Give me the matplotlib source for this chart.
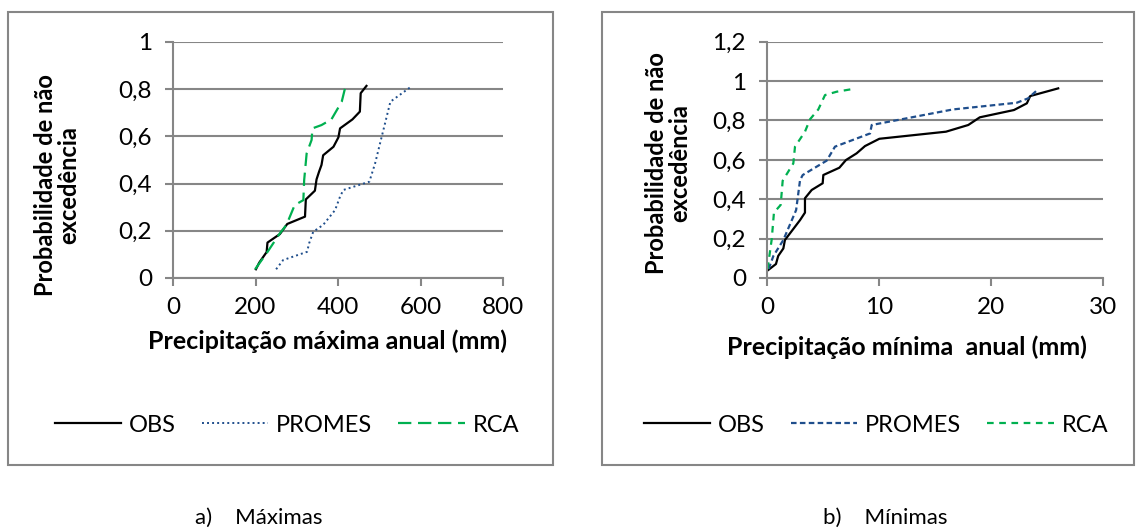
import numpy as np
import matplotlib
matplotlib.use("Agg")
import matplotlib.pyplot as plt
from matplotlib.patches import Rectangle
from matplotlib.ticker import FuncFormatter

plt.rcParams['font.family'] = ['Lato', 'DejaVu Sans']

# a) Maximas - precipitacao maxima anual (mm) vs probabilidade
max_obs_x = [201, 209, 219, 227, 229, 259, 277, 320, 322, 344, 348, 354, 360, 364,
             389, 401, 405, 435, 453, 455, 469]
max_obs_p = [0.037, 0.065, 0.09, 0.11, 0.15, 0.186, 0.229, 0.26, 0.333, 0.37, 0.418,
             0.45, 0.479, 0.52, 0.556, 0.596, 0.634, 0.672, 0.705, 0.783, 0.814]
max_promes_x = [250, 267, 325, 330, 340, 364, 393, 405, 413, 476, 490, 502, 510, 527, 575]
max_promes_p = [0.037, 0.076, 0.111, 0.147, 0.196, 0.225, 0.288, 0.345, 0.373, 0.408,
                0.486, 0.571, 0.627, 0.747, 0.808]
max_rca_x = [199, 227, 259, 275, 295, 316, 318, 324, 336, 338, 360, 384, 409, 419]
max_rca_p = [0.037, 0.105, 0.189, 0.225, 0.309, 0.33, 0.415, 0.528, 0.585, 0.634,
             0.648, 0.672, 0.747, 0.818]

# b) Minimas - precipitacao minima anual (mm) vs probabilidade
min_obs_x = [0.12, 0.8, 1.0, 1.46, 1.6, 2.95, 3.39, 3.39, 3.99, 4.97, 5.03, 6.46, 7.05,
             8.0, 8.75, 10.03, 15.98, 17.97, 19.0, 22.05, 23.2, 23.5, 26.0]
min_obs_p = [0.041, 0.071, 0.112, 0.15, 0.193, 0.294, 0.332, 0.405, 0.447, 0.481, 0.523,
             0.56, 0.599, 0.633, 0.67, 0.707, 0.743, 0.777, 0.816, 0.853, 0.887, 0.924, 0.963]
min_promes_x = [0.15, 0.57, 1.46, 2.6, 2.95, 3.19, 5.33, 6.07, 9.2, 9.35, 16.6, 22.3, 23.3, 24.2]
min_promes_p = [0.046, 0.112, 0.193, 0.345, 0.497, 0.523, 0.596, 0.667, 0.734, 0.777,
                0.856, 0.89, 0.912, 0.958]
min_rca_x = [0.05, 0.42, 0.62, 1.22, 1.4, 2.35, 2.5, 3.39, 3.84, 4.58, 5.18, 6.22, 7.47]
min_rca_p = [0.046, 0.196, 0.332, 0.371, 0.494, 0.582, 0.667, 0.743, 0.806, 0.856,
             0.929, 0.946, 0.958]

W, H = 1136, 532
fig = plt.figure(figsize=(W / 100, H / 100), dpi=100)

def fx(px):
    return px / W

def fy(py):
    return 1 - py / H

grey = '#868686'
green = '#00B050'
blue = '#1F4E8C'
fs_tick = 17.5
fs_leg = 17
fs_xl = 18
fs_yl = 17

def comma(v, pos):
    s = ('%.1f' % v).rstrip('0').rstrip('.')
    return s.replace('.', ',')

# outer frames
for x0, x1 in [(8, 553), (602, 1134)]:
    fig.patches.append(Rectangle((fx(x0), fy(465)), fx(x1) - fx(x0), fy(12) - fy(465),
                                 transform=fig.transFigure, fill=False,
                                 edgecolor=grey, linewidth=1.5))

def style(ax, ymax, ystep):
    ax.set_ylim(0, ymax)
    ax.set_yticks(np.arange(0, ymax + 0.001, ystep))
    ax.yaxis.set_major_formatter(FuncFormatter(comma))
    ax.grid(axis='y', color=grey, linewidth=1.5)
    ax.set_axisbelow(True)
    for s in ['top', 'right']:
        ax.spines[s].set_visible(False)
    for s in ['left', 'bottom']:
        ax.spines[s].set_color(grey)
        ax.spines[s].set_linewidth(1.5)
    ax.tick_params(axis='both', colors=grey, labelcolor='black', labelsize=fs_tick,
                   length=6, width=1.5)
    ax.tick_params(axis='y', pad=9)
    ax.tick_params(axis='x', pad=8)

# left panel
ax1 = fig.add_axes([fx(173), fy(278), fx(503) - fx(173), fy(42) - fy(278)])
ax1.plot(max_obs_x, max_obs_p, color='black', lw=1.6, label='OBS')
ax1.plot(max_promes_x, max_promes_p, color=blue, lw=1.4, ls=(0, (1, 1.6)), label='PROMES')
ax1.plot(max_rca_x, max_rca_p, color=green, lw=1.6, ls=(0, (6, 3)), label='RCA')
ax1.set_xlim(0, 800)
ax1.set_xticks([0, 200, 400, 600, 800])
style(ax1, 1.0, 0.2)
ax1.legend(loc='center', bbox_to_anchor=(fx(287), fy(425)), bbox_transform=fig.transFigure,
           ncol=3, frameon=False, fontsize=fs_leg, handlelength=2.8, columnspacing=1.1,
           handletextpad=0.35)

# right panel
ax2 = fig.add_axes([fx(767), fy(278), fx(1103) - fx(767), fy(41.7) - fy(278)])
ax2.plot(min_obs_x, min_obs_p, color='black', lw=1.6, label='OBS')
ax2.plot(min_promes_x, min_promes_p, color=blue, lw=1.6, ls=(0, (2.5, 1.5)), label='PROMES')
ax2.plot(min_rca_x, min_rca_p, color=green, lw=1.6, ls=(0, (3, 2.5)), label='RCA')
ax2.set_xlim(0, 30)
ax2.set_xticks([0, 10, 20, 30])
style(ax2, 1.2, 0.2)
ax2.legend(loc='center', bbox_to_anchor=(fx(876), fy(425)), bbox_transform=fig.transFigure,
           ncol=3, frameon=False, fontsize=fs_leg, handlelength=2.8, columnspacing=1.1,
           handletextpad=0.35)

# axis titles
fig.text(fx(57), fy(185), 'Probabilidade de não\nexcedência', rotation=90, ha='center',
         va='center', fontsize=fs_yl, fontweight='bold', linespacing=1.05)
fig.text(fx(668), fy(163), 'Probabilidade de não\nexcedência', rotation=90, ha='center',
         va='center', fontsize=fs_yl, fontweight='bold', linespacing=1.05)
fig.text(fx(327), fy(341), 'Precipitação máxima anual (mm)', ha='center', va='center',
         fontsize=fs_xl, fontweight='bold')
fig.text(fx(907), fy(347), 'Precipitação mínima  anual (mm)', ha='center', va='center',
         fontsize=fs_xl, fontweight='bold')

# captions
fig.text(fx(259), fy(518), 'a)    Máximas', ha='center', va='center', fontsize=16)
fig.text(fx(885), fy(518), 'b)    Mínimas', ha='center', va='center', fontsize=16)

fig.savefig('out.png', dpi=100)
